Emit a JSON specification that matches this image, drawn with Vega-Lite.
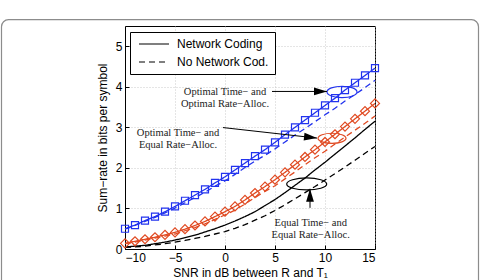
{
  "$schema": "https://vega.github.io/schema/vega-lite/v6.json",
  "width": 250,
  "height": 223,
  "autosize": {"type": "none"},
  "padding": {"left": 125, "top": 26, "right": 108, "bottom": 31},
  "background": "white",
  "config": {
    "view": {"stroke": "black", "strokeWidth": 1},
    "axis": {
      "domainColor": "black", "domainWidth": 1,
      "tickColor": "black", "tickSize": -4, "labelPadding": 7,
      "labelColor": "black", "labelFont": "Liberation Sans", "labelFontSize": 12,
      "titleFont": "Liberation Sans", "titleFontSize": 12, "titleFontWeight": "normal", "titleColor": "black",
      "gridColor": "#bdbdbd", "gridDash": [1, 2], "gridWidth": 0.8
    }
  },
  "datasets": {
    "curves": [
      {"x": -10, "y": 0.50, "a": "OO", "s": "Network Coding"},
      {"x": -9, "y": 0.59, "a": "OO", "s": "Network Coding"},
      {"x": -8, "y": 0.70, "a": "OO", "s": "Network Coding"},
      {"x": -7, "y": 0.80, "a": "OO", "s": "Network Coding"},
      {"x": -6, "y": 0.92, "a": "OO", "s": "Network Coding"},
      {"x": -5, "y": 1.05, "a": "OO", "s": "Network Coding"},
      {"x": -4, "y": 1.19, "a": "OO", "s": "Network Coding"},
      {"x": -3, "y": 1.33, "a": "OO", "s": "Network Coding"},
      {"x": -2, "y": 1.47, "a": "OO", "s": "Network Coding"},
      {"x": -1, "y": 1.63, "a": "OO", "s": "Network Coding"},
      {"x": 0, "y": 1.78, "a": "OO", "s": "Network Coding"},
      {"x": 1, "y": 1.95, "a": "OO", "s": "Network Coding"},
      {"x": 2, "y": 2.12, "a": "OO", "s": "Network Coding"},
      {"x": 3, "y": 2.29, "a": "OO", "s": "Network Coding"},
      {"x": 4, "y": 2.45, "a": "OO", "s": "Network Coding"},
      {"x": 5, "y": 2.63, "a": "OO", "s": "Network Coding"},
      {"x": 6, "y": 2.82, "a": "OO", "s": "Network Coding"},
      {"x": 7, "y": 3.00, "a": "OO", "s": "Network Coding"},
      {"x": 8, "y": 3.18, "a": "OO", "s": "Network Coding"},
      {"x": 9, "y": 3.36, "a": "OO", "s": "Network Coding"},
      {"x": 10, "y": 3.54, "a": "OO", "s": "Network Coding"},
      {"x": 11, "y": 3.72, "a": "OO", "s": "Network Coding"},
      {"x": 12, "y": 3.92, "a": "OO", "s": "Network Coding"},
      {"x": 13, "y": 4.10, "a": "OO", "s": "Network Coding"},
      {"x": 14, "y": 4.28, "a": "OO", "s": "Network Coding"},
      {"x": 15, "y": 4.46, "a": "OO", "s": "Network Coding"},
      {"x": -10, "y": 0.49, "a": "OO", "s": "No Network Cod."},
      {"x": -9, "y": 0.58, "a": "OO", "s": "No Network Cod."},
      {"x": -8, "y": 0.68, "a": "OO", "s": "No Network Cod."},
      {"x": -7, "y": 0.78, "a": "OO", "s": "No Network Cod."},
      {"x": -6, "y": 0.89, "a": "OO", "s": "No Network Cod."},
      {"x": -5, "y": 1.01, "a": "OO", "s": "No Network Cod."},
      {"x": -4, "y": 1.14, "a": "OO", "s": "No Network Cod."},
      {"x": -3, "y": 1.27, "a": "OO", "s": "No Network Cod."},
      {"x": -2, "y": 1.40, "a": "OO", "s": "No Network Cod."},
      {"x": -1, "y": 1.55, "a": "OO", "s": "No Network Cod."},
      {"x": 0, "y": 1.68, "a": "OO", "s": "No Network Cod."},
      {"x": 1, "y": 1.84, "a": "OO", "s": "No Network Cod."},
      {"x": 2, "y": 2.01, "a": "OO", "s": "No Network Cod."},
      {"x": 3, "y": 2.17, "a": "OO", "s": "No Network Cod."},
      {"x": 4, "y": 2.31, "a": "OO", "s": "No Network Cod."},
      {"x": 5, "y": 2.47, "a": "OO", "s": "No Network Cod."},
      {"x": 6, "y": 2.64, "a": "OO", "s": "No Network Cod."},
      {"x": 7, "y": 2.81, "a": "OO", "s": "No Network Cod."},
      {"x": 8, "y": 2.97, "a": "OO", "s": "No Network Cod."},
      {"x": 9, "y": 3.14, "a": "OO", "s": "No Network Cod."},
      {"x": 10, "y": 3.31, "a": "OO", "s": "No Network Cod."},
      {"x": 11, "y": 3.47, "a": "OO", "s": "No Network Cod."},
      {"x": 12, "y": 3.65, "a": "OO", "s": "No Network Cod."},
      {"x": 13, "y": 3.81, "a": "OO", "s": "No Network Cod."},
      {"x": 14, "y": 3.98, "a": "OO", "s": "No Network Cod."},
      {"x": 15, "y": 4.16, "a": "OO", "s": "No Network Cod."},
      {"x": -10, "y": 0.14, "a": "OE", "s": "Network Coding"},
      {"x": -9, "y": 0.19, "a": "OE", "s": "Network Coding"},
      {"x": -8, "y": 0.24, "a": "OE", "s": "Network Coding"},
      {"x": -7, "y": 0.29, "a": "OE", "s": "Network Coding"},
      {"x": -6, "y": 0.35, "a": "OE", "s": "Network Coding"},
      {"x": -5, "y": 0.41, "a": "OE", "s": "Network Coding"},
      {"x": -4, "y": 0.49, "a": "OE", "s": "Network Coding"},
      {"x": -3, "y": 0.58, "a": "OE", "s": "Network Coding"},
      {"x": -2, "y": 0.68, "a": "OE", "s": "Network Coding"},
      {"x": -1, "y": 0.80, "a": "OE", "s": "Network Coding"},
      {"x": 0, "y": 0.92, "a": "OE", "s": "Network Coding"},
      {"x": 1, "y": 1.05, "a": "OE", "s": "Network Coding"},
      {"x": 2, "y": 1.21, "a": "OE", "s": "Network Coding"},
      {"x": 3, "y": 1.38, "a": "OE", "s": "Network Coding"},
      {"x": 4, "y": 1.54, "a": "OE", "s": "Network Coding"},
      {"x": 5, "y": 1.71, "a": "OE", "s": "Network Coding"},
      {"x": 6, "y": 1.89, "a": "OE", "s": "Network Coding"},
      {"x": 7, "y": 2.08, "a": "OE", "s": "Network Coding"},
      {"x": 8, "y": 2.27, "a": "OE", "s": "Network Coding"},
      {"x": 9, "y": 2.45, "a": "OE", "s": "Network Coding"},
      {"x": 10, "y": 2.64, "a": "OE", "s": "Network Coding"},
      {"x": 11, "y": 2.83, "a": "OE", "s": "Network Coding"},
      {"x": 12, "y": 3.02, "a": "OE", "s": "Network Coding"},
      {"x": 13, "y": 3.21, "a": "OE", "s": "Network Coding"},
      {"x": 14, "y": 3.40, "a": "OE", "s": "Network Coding"},
      {"x": 15, "y": 3.59, "a": "OE", "s": "Network Coding"},
      {"x": -10, "y": 0.13, "a": "OE", "s": "No Network Cod."},
      {"x": -9, "y": 0.17, "a": "OE", "s": "No Network Cod."},
      {"x": -8, "y": 0.22, "a": "OE", "s": "No Network Cod."},
      {"x": -7, "y": 0.27, "a": "OE", "s": "No Network Cod."},
      {"x": -6, "y": 0.32, "a": "OE", "s": "No Network Cod."},
      {"x": -5, "y": 0.37, "a": "OE", "s": "No Network Cod."},
      {"x": -4, "y": 0.45, "a": "OE", "s": "No Network Cod."},
      {"x": -3, "y": 0.53, "a": "OE", "s": "No Network Cod."},
      {"x": -2, "y": 0.62, "a": "OE", "s": "No Network Cod."},
      {"x": -1, "y": 0.73, "a": "OE", "s": "No Network Cod."},
      {"x": 0, "y": 0.84, "a": "OE", "s": "No Network Cod."},
      {"x": 1, "y": 0.96, "a": "OE", "s": "No Network Cod."},
      {"x": 2, "y": 1.11, "a": "OE", "s": "No Network Cod."},
      {"x": 3, "y": 1.27, "a": "OE", "s": "No Network Cod."},
      {"x": 4, "y": 1.42, "a": "OE", "s": "No Network Cod."},
      {"x": 5, "y": 1.56, "a": "OE", "s": "No Network Cod."},
      {"x": 6, "y": 1.73, "a": "OE", "s": "No Network Cod."},
      {"x": 7, "y": 1.90, "a": "OE", "s": "No Network Cod."},
      {"x": 8, "y": 2.08, "a": "OE", "s": "No Network Cod."},
      {"x": 9, "y": 2.25, "a": "OE", "s": "No Network Cod."},
      {"x": 10, "y": 2.41, "a": "OE", "s": "No Network Cod."},
      {"x": 11, "y": 2.59, "a": "OE", "s": "No Network Cod."},
      {"x": 12, "y": 2.76, "a": "OE", "s": "No Network Cod."},
      {"x": 13, "y": 2.93, "a": "OE", "s": "No Network Cod."},
      {"x": 14, "y": 3.10, "a": "OE", "s": "No Network Cod."},
      {"x": 15, "y": 3.28, "a": "OE", "s": "No Network Cod."},
      {"x": -10, "y": 0.05, "a": "EE", "s": "Network Coding"},
      {"x": -9, "y": 0.07, "a": "EE", "s": "Network Coding"},
      {"x": -8, "y": 0.09, "a": "EE", "s": "Network Coding"},
      {"x": -7, "y": 0.13, "a": "EE", "s": "Network Coding"},
      {"x": -6, "y": 0.17, "a": "EE", "s": "Network Coding"},
      {"x": -5, "y": 0.22, "a": "EE", "s": "Network Coding"},
      {"x": -4, "y": 0.28, "a": "EE", "s": "Network Coding"},
      {"x": -3, "y": 0.34, "a": "EE", "s": "Network Coding"},
      {"x": -2, "y": 0.42, "a": "EE", "s": "Network Coding"},
      {"x": -1, "y": 0.50, "a": "EE", "s": "Network Coding"},
      {"x": 0, "y": 0.59, "a": "EE", "s": "Network Coding"},
      {"x": 1, "y": 0.69, "a": "EE", "s": "Network Coding"},
      {"x": 2, "y": 0.80, "a": "EE", "s": "Network Coding"},
      {"x": 3, "y": 0.92, "a": "EE", "s": "Network Coding"},
      {"x": 4, "y": 1.07, "a": "EE", "s": "Network Coding"},
      {"x": 5, "y": 1.22, "a": "EE", "s": "Network Coding"},
      {"x": 6, "y": 1.39, "a": "EE", "s": "Network Coding"},
      {"x": 7, "y": 1.57, "a": "EE", "s": "Network Coding"},
      {"x": 8, "y": 1.75, "a": "EE", "s": "Network Coding"},
      {"x": 9, "y": 1.95, "a": "EE", "s": "Network Coding"},
      {"x": 10, "y": 2.14, "a": "EE", "s": "Network Coding"},
      {"x": 11, "y": 2.34, "a": "EE", "s": "Network Coding"},
      {"x": 12, "y": 2.54, "a": "EE", "s": "Network Coding"},
      {"x": 13, "y": 2.74, "a": "EE", "s": "Network Coding"},
      {"x": 14, "y": 2.95, "a": "EE", "s": "Network Coding"},
      {"x": 15, "y": 3.15, "a": "EE", "s": "Network Coding"},
      {"x": -10, "y": 0.04, "a": "EE", "s": "No Network Cod."},
      {"x": -9, "y": 0.05, "a": "EE", "s": "No Network Cod."},
      {"x": -8, "y": 0.07, "a": "EE", "s": "No Network Cod."},
      {"x": -7, "y": 0.10, "a": "EE", "s": "No Network Cod."},
      {"x": -6, "y": 0.13, "a": "EE", "s": "No Network Cod."},
      {"x": -5, "y": 0.17, "a": "EE", "s": "No Network Cod."},
      {"x": -4, "y": 0.21, "a": "EE", "s": "No Network Cod."},
      {"x": -3, "y": 0.26, "a": "EE", "s": "No Network Cod."},
      {"x": -2, "y": 0.31, "a": "EE", "s": "No Network Cod."},
      {"x": -1, "y": 0.37, "a": "EE", "s": "No Network Cod."},
      {"x": 0, "y": 0.43, "a": "EE", "s": "No Network Cod."},
      {"x": 1, "y": 0.51, "a": "EE", "s": "No Network Cod."},
      {"x": 2, "y": 0.60, "a": "EE", "s": "No Network Cod."},
      {"x": 3, "y": 0.71, "a": "EE", "s": "No Network Cod."},
      {"x": 4, "y": 0.82, "a": "EE", "s": "No Network Cod."},
      {"x": 5, "y": 0.95, "a": "EE", "s": "No Network Cod."},
      {"x": 6, "y": 1.09, "a": "EE", "s": "No Network Cod."},
      {"x": 7, "y": 1.24, "a": "EE", "s": "No Network Cod."},
      {"x": 8, "y": 1.39, "a": "EE", "s": "No Network Cod."},
      {"x": 9, "y": 1.54, "a": "EE", "s": "No Network Cod."},
      {"x": 10, "y": 1.70, "a": "EE", "s": "No Network Cod."},
      {"x": 11, "y": 1.86, "a": "EE", "s": "No Network Cod."},
      {"x": 12, "y": 2.02, "a": "EE", "s": "No Network Cod."},
      {"x": 13, "y": 2.19, "a": "EE", "s": "No Network Cod."},
      {"x": 14, "y": 2.36, "a": "EE", "s": "No Network Cod."},
      {"x": 15, "y": 2.53, "a": "EE", "s": "No Network Cod."}
    ],
    "notes": [
      {"x": 0.0, "y": 3.861, "label": "Optimal Time− and\nOptimal Rate−Alloc."},
      {"x": -4.7, "y": 2.871, "label": "Optimal Time− and\nEqual Rate−Alloc."},
      {"x": 8.57, "y": 0.644, "label": "Equal Time− and\nEqual Rate−Alloc."}
    ],
    "arrows": [
      {"id": "OO", "x": 4.7, "y": 3.886, "x2": 10.2, "y2": 3.886},
      {"id": "OE", "x": -0.2, "y": 2.995, "x2": 9.2, "y2": 2.735},
      {"id": "EE", "x": 8.5, "y": 1.015, "x2": 8.5, "y2": 1.485}
    ],
    "ellipses": [
      {"id": "OO", "x": 11.7, "y": 3.874},
      {"id": "OE", "x": 10.7, "y": 2.730},
      {"id": "EE", "x": 8.17, "y": 1.604}
    ]
  },
  "layer": [
    {
      "data": {"name": "curves"},
      "mark": {"type": "line", "strokeWidth": 1.3},
      "encoding": {
        "x": {"field": "x", "type": "quantitative", "scale": {"domain": [-10, 15], "nice": false, "zero": false},
              "axis": {"title": "SNR in dB between R and T₁", "values": [-10, -5, 0, 5, 10, 15], "titlePadding": 4}},
        "y": {"field": "y", "type": "quantitative", "scale": {"domain": [0, 5.5], "nice": false, "zero": false},
              "axis": {"title": "Sum−rate in bits per symbol", "values": [0, 1, 2, 3, 4, 5], "titlePadding": 6}},
        "color": {"field": "a", "type": "nominal", "scale": {"domain": ["OO", "OE", "EE"], "range": ["#2233ee", "#e04a22", "#000000"]}, "legend": null},
        "strokeDash": {"field": "s", "type": "nominal",
          "scale": {"domain": ["Network Coding", "No Network Cod."], "range": [[1, 0], [6, 4]]},
          "legend": {
            "title": null, "orient": "none", "legendX": 5, "legendY": 6,
            "strokeColor": "black", "fillColor": "white", "padding": 6, "cornerRadius": 0,
            "symbolType": "M -1 0 L 9 0", "symbolSize": 36, "labelOffset": 29, "rowPadding": 6,
            "symbolStrokeColor": "black", "symbolStrokeWidth": 1.1, "symbolFillColor": "transparent",
            "labelFont": "Liberation Sans", "labelFontSize": 12, "labelColor": "black"
          }
        }
      }
    },
    {
      "data": {"values": [{}]},
      "mark": {"type": "rect", "fill": "transparent", "stroke": "#8c8c8c", "strokeWidth": 1.2, "cornerRadius": 7},
      "encoding": {
        "x": {"datum": -22.35, "type": "quantitative", "scale": {"domain": [-10, 15], "nice": false, "zero": false}},
        "x2": {"datum": 25.35},
        "y": {"datum": 5.655, "type": "quantitative", "scale": {"domain": [0, 5.5], "nice": false, "zero": false}},
        "y2": {"datum": -1.3}
      }
    },
    {
      "data": {"name": "curves"},
      "transform": [{"filter": "datum.s === 'Network Coding' && datum.a !== 'EE'"}],
      "mark": {"type": "point", "filled": false, "strokeWidth": 1.2, "opacity": 1},
      "encoding": {
        "x": {"field": "x", "type": "quantitative", "scale": {"domain": [-10, 15], "nice": false, "zero": false}},
        "y": {"field": "y", "type": "quantitative", "scale": {"domain": [0, 5.5], "nice": false, "zero": false}},
        "color": {"field": "a", "type": "nominal", "legend": null},
        "shape": {"field": "a", "type": "nominal", "scale": {"domain": ["OO", "OE"], "range": ["square", "diamond"]}, "legend": null},
        "size": {"field": "a", "type": "ordinal", "scale": {"domain": ["OO", "OE"], "range": [49, 81]}, "legend": null}
      }
    },
    {
      "data": {"name": "ellipses"},
      "transform": [{"filter": "datum.id === 'OO'"}],
      "mark": {"type": "point", "filled": false, "stroke": "#2233ee", "strokeWidth": 1.2, "opacity": 1, "size": 900,
               "shape": "M -1 0 A 1 0.38 0 1 1 1 0 A 1 0.38 0 1 1 -1 0 Z"},
      "encoding": {
        "x": {"field": "x", "type": "quantitative", "scale": {"domain": [-10, 15], "nice": false, "zero": false}},
        "y": {"field": "y", "type": "quantitative", "scale": {"domain": [0, 5.5], "nice": false, "zero": false}}
      }
    },
    {
      "data": {"name": "ellipses"},
      "transform": [{"filter": "datum.id === 'OE'"}],
      "mark": {"type": "point", "filled": false, "stroke": "#e04a22", "strokeWidth": 1.2, "opacity": 1, "size": 784,
               "shape": "M -1 0 A 1 0.36 0 1 1 1 0 A 1 0.36 0 1 1 -1 0 Z"},
      "encoding": {
        "x": {"field": "x", "type": "quantitative", "scale": {"domain": [-10, 15], "nice": false, "zero": false}},
        "y": {"field": "y", "type": "quantitative", "scale": {"domain": [0, 5.5], "nice": false, "zero": false}}
      }
    },
    {
      "data": {"name": "ellipses"},
      "transform": [{"filter": "datum.id === 'EE'"}],
      "mark": {"type": "point", "filled": false, "stroke": "#000000", "strokeWidth": 1.2, "opacity": 1, "size": 1600,
               "shape": "M -1 0 A 1 0.3 0 1 1 1 0 A 1 0.3 0 1 1 -1 0 Z"},
      "encoding": {
        "x": {"field": "x", "type": "quantitative", "scale": {"domain": [-10, 15], "nice": false, "zero": false}},
        "y": {"field": "y", "type": "quantitative", "scale": {"domain": [0, 5.5], "nice": false, "zero": false}}
      }
    },
    {
      "data": {"name": "arrows"},
      "mark": {"type": "rule", "color": "black", "strokeWidth": 1},
      "encoding": {
        "x": {"field": "x", "type": "quantitative", "scale": {"domain": [-10, 15], "nice": false, "zero": false}},
        "y": {"field": "y", "type": "quantitative", "scale": {"domain": [0, 5.5], "nice": false, "zero": false}},
        "x2": {"field": "x2"},
        "y2": {"field": "y2"}
      }
    },
    {
      "data": {"name": "arrows"},
      "transform": [{"filter": "datum.id === 'OO'"}],
      "mark": {"type": "point", "filled": true, "color": "black", "opacity": 1, "size": 169, "angle": 0,
               "shape": "M 0 0 L -2 -0.6 L -2 0.6 Z"},
      "encoding": {
        "x": {"field": "x2", "type": "quantitative", "scale": {"domain": [-10, 15], "nice": false, "zero": false}},
        "y": {"field": "y2", "type": "quantitative", "scale": {"domain": [0, 5.5], "nice": false, "zero": false}}
      }
    },
    {
      "data": {"name": "arrows"},
      "transform": [{"filter": "datum.id === 'OE'"}],
      "mark": {"type": "point", "filled": true, "color": "black", "opacity": 1, "size": 169, "angle": 6.4,
               "shape": "M 0 0 L -2 -0.6 L -2 0.6 Z"},
      "encoding": {
        "x": {"field": "x2", "type": "quantitative", "scale": {"domain": [-10, 15], "nice": false, "zero": false}},
        "y": {"field": "y2", "type": "quantitative", "scale": {"domain": [0, 5.5], "nice": false, "zero": false}}
      }
    },
    {
      "data": {"name": "arrows"},
      "transform": [{"filter": "datum.id === 'EE'"}],
      "mark": {"type": "point", "filled": true, "color": "black", "opacity": 1, "size": 169, "angle": -90,
               "shape": "M 0 0 L -2 -0.6 L -2 0.6 Z"},
      "encoding": {
        "x": {"field": "x2", "type": "quantitative", "scale": {"domain": [-10, 15], "nice": false, "zero": false}},
        "y": {"field": "y2", "type": "quantitative", "scale": {"domain": [0, 5.5], "nice": false, "zero": false}}
      }
    },
    {
      "data": {"name": "notes"},
      "mark": {"type": "text", "font": "Liberation Serif", "fontSize": 10.5, "lineBreak": "\n", "lineHeight": 12,
               "align": "center", "baseline": "middle", "color": "#222222"},
      "encoding": {
        "x": {"field": "x", "type": "quantitative", "scale": {"domain": [-10, 15], "nice": false, "zero": false}},
        "y": {"field": "y", "type": "quantitative", "scale": {"domain": [0, 5.5], "nice": false, "zero": false}},
        "text": {"field": "label", "type": "nominal"}
      }
    }
  ]
}
